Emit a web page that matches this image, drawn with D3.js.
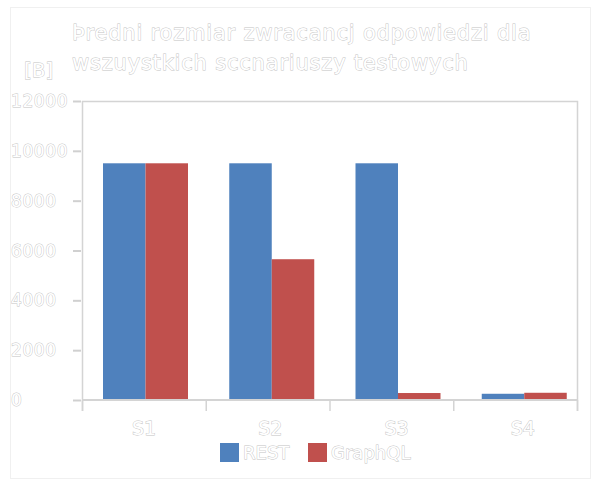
<!DOCTYPE html>
<head>
<meta charset="utf-8">
<script src="https://d3js.org/d3.v7.min.js"></script>
<style>
body { margin: 0; background: #fff; }
.lbl {
  font-family: "DejaVu Sans", sans-serif;
  fill: #fff;
  stroke: #c4c4c4;
  stroke-width: 0.9px;
  paint-order: stroke;
}
</style>
</head>
<body>
<div id="chart"></div>
<script>

// data
let categories = ["S1", "S2", "S3", "S4"];
let seriesNames = ["REST", "GraphQL"];
let restValues = [9500, 9500, 9500, 250];
let graphqlValues = [9500, 5650, 280, 290];
let yTicks = [0, 2000, 4000, 6000, 8000, 10000, 12000];
let titleLines = ["Þredni rozmiar zwracancj odpowiedzi dla", "wszuystkich sccnariuszy testowych"];
let yLabel = "[B]";

let W = 594, H = 483;
let margin = {top: 101, right: 17, bottom: 83, left: 82},
    width = W - margin.left - margin.right,
    height = H - margin.top - margin.bottom;

let colors = d3.scaleOrdinal().domain(seriesNames).range(["#4f81bd", "#c0504d"]);

let svg = d3.select("#chart").append("svg")
    .attr("width", W)
    .attr("height", H);

// outer frame
svg.append("rect")
    .attr("x", 10.5).attr("y", 7.5)
    .attr("width", W - 14).attr("height", H - 12)
    .attr("fill", "none")
    .attr("stroke", "#f0f0f0");

let g = svg.append("g")
    .attr("transform", "translate(" + margin.left + "," + margin.top + ")");

// x0 = axis divisions, xb = bar groups (slightly wider step in the original)
let x0 = d3.scaleBand().domain(categories).range([0, width]),
    xb = d3.scaleBand().domain(categories).range([0, 505]),
    x1 = d3.scaleBand().domain(seriesNames).range([21, 106]),
    y = d3.scaleLinear().domain([0, 12000]).range([height, 0]);

// plot frame (top + right)
g.append("path")
    .attr("d", "M0,0.5H" + (width + 0.5) + "V" + (height + 11))
    .attr("fill", "none")
    .attr("stroke", "#d4d4d4")
    .attr("stroke-width", 1.5);

// bars
let rows = categories.map(function(c, i) {
  return {cat: c, vals: [{key: "REST", value: restValues[i]}, {key: "GraphQL", value: graphqlValues[i]}]};
});

let layer = g.selectAll("g.layer").data(rows).enter().append("g")
    .attr("class", "layer")
    .attr("transform", function(d) { return "translate(" + xb(d.cat) + ",0)"; });

layer.selectAll("rect").data(function(d) { return d.vals; }).enter().append("rect")
    .attr("x", function(d) { return x1(d.key); })
    .attr("y", function(d) { return y(d.value); })
    .attr("width", x1.bandwidth())
    .attr("height", function(d) { return height - y(d.value); })
    .attr("fill", function(d) { return colors(d.key); });

// y axis
let yAxis = d3.axisLeft(y).tickValues(yTicks).tickSize(9).tickFormat("");
let ya = g.append("g").call(yAxis);
ya.select(".domain").attr("stroke", "#d4d4d4").attr("stroke-width", 1.5)
    .attr("d", "M0.5,0V" + (height + 11));
ya.selectAll(".tick line").attr("stroke", "#d0d0d0").attr("stroke-width", 2).attr("x1", -1);

g.selectAll(".ylbl").data(yTicks).enter().append("text")
    .attr("class", "lbl")
    .attr("x", 11 - margin.left)
    .attr("y", function(d) { return y(d) + 6; })
    .attr("font-size", 17)
    .attr("letter-spacing", 0.6)
    .text(function(d) { return d; });

// x axis
let xa = g.append("g").attr("transform", "translate(0," + height + ")");
xa.append("line").attr("x1", 0).attr("x2", width).attr("stroke", "#d4d4d4").attr("stroke-width", 2);
xa.selectAll(".xt").data(categories.concat(["end"])).enter().append("line")
    .attr("x1", function(d, i) { return i * x0.bandwidth() + 0.5; })
    .attr("x2", function(d, i) { return i * x0.bandwidth() + 0.5; })
    .attr("y1", 0).attr("y2", 11)
    .attr("stroke", "#d4d4d4").attr("stroke-width", 1.5);
xa.selectAll(".xlbl").data(categories).enter().append("text")
    .attr("class", "lbl")
    .attr("x", function(d) { return xb(d) + 62; })
    .attr("y", 35)
    .attr("text-anchor", "middle")
    .attr("font-size", 19)
    .text(function(d) { return d; });

// title
svg.selectAll(".title").data(titleLines).enter().append("text")
    .attr("class", "lbl")
    .attr("x", 72)
    .attr("y", function(d, i) { return 40 + i * 30; })
    .attr("font-size", 21)
    .attr("letter-spacing", 0.8)
    .text(function(d) { return d; });

svg.append("text")
    .attr("class", "lbl")
    .attr("x", 24).attr("y", 77)
    .attr("font-size", 20)
    .text(yLabel);

// legend
let legend = svg.selectAll(".leg").data(seriesNames).enter().append("g")
    .attr("transform", function(d, i) { return "translate(" + (220 + i * 88) + ",443)"; });
legend.append("rect")
    .attr("width", 19).attr("height", 19)
    .attr("fill", colors);
legend.append("text")
    .attr("class", "lbl")
    .attr("x", 23).attr("y", 16)
    .attr("font-size", 18)
    .text(function(d) { return d; });

</script>
</body>
